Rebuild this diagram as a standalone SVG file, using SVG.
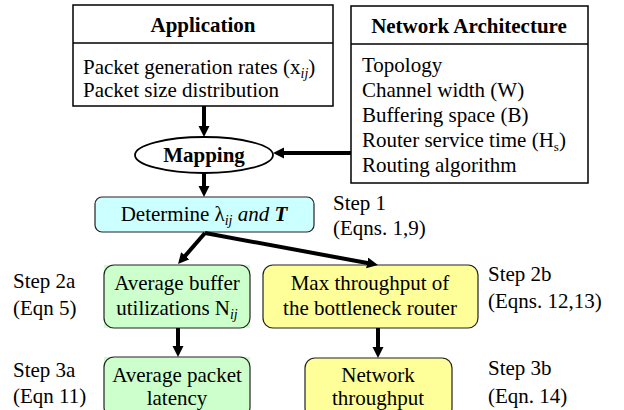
<svg xmlns="http://www.w3.org/2000/svg" width="624" height="410" viewBox="0 0 624 410" font-family="'Liberation Serif', 'DejaVu Serif', serif">
<style>
text{font-family:'Liberation Serif','DejaVu Serif',serif;font-size:21px;fill:#000}
.b{font-weight:bold}
.c{text-anchor:middle}
.box{fill:#fff;stroke:#000;stroke-width:1.5}
.rb{stroke:#222;stroke-width:1.2}
.sub{font-size:14px;font-style:italic}
.ar{fill:none;stroke:#000;stroke-width:4}
</style>
<defs>
<marker id="ah" markerUnits="userSpaceOnUse" markerWidth="12" markerHeight="12" refX="3" refY="5.5" orient="auto">
<path d="M0,0 L11,5.5 L0,11 z" fill="#000"/>
</marker>
</defs>
<rect width="624" height="410" fill="#fff"/>

<g id="application">
<rect class="box" x="73" y="5" width="260" height="101"/>
<line x1="73" y1="43" x2="333" y2="43" stroke="#000" stroke-width="1.5"/>
<text class="b c" x="203" y="32">Application</text>
<text x="83" y="74">Packet generation rates (x<tspan class="sub" dy="4">ij</tspan><tspan dy="-4">)</tspan></text>
<text x="83" y="97">Packet size distribution</text>
</g>

<g id="network-architecture">
<rect class="box" x="351" y="6" width="237" height="177"/>
<line x1="351" y1="44" x2="588" y2="44" stroke="#000" stroke-width="1.5"/>
<text class="b c" x="469" y="33">Network Architecture</text>
<text x="362" y="72">Topology</text>
<text x="362" y="97">Channel width (W)</text>
<text x="362" y="122">Buffering space (B)</text>
<text x="362" y="147">Router service time (H<tspan font-size="13" dy="4">s</tspan><tspan dy="-4">)</tspan></text>
<text x="362" y="172">Routing algorithm</text>
</g>

<g id="mapping">
<ellipse cx="204" cy="155" rx="69" ry="18" fill="#fff" stroke="#000" stroke-width="1.8"/>
<text class="b c" x="204" y="162">Mapping</text>
</g>

<g id="determine">
<rect class="rb" x="95" y="197" width="219" height="35" rx="7" fill="#ccffff"/>
<text class="c" x="204" y="221">Determine λ<tspan class="sub" dy="4">ij</tspan><tspan dy="-4" font-style="italic"> and </tspan><tspan font-style="italic" font-weight="bold">T</tspan></text>
</g>
<g id="step1">
<text x="333" y="210">Step 1</text>
<text x="333" y="235">(Eqns. 1,9)</text>
</g>

<g id="avg-buffer">
<rect x="104" y="265" width="146" height="63" fill="#ccffcc"/>
<rect class="rb" x="104" y="265" width="146" height="63" rx="10" fill="#ccffcc"/>
<text class="c" x="177" y="290">Average buffer</text>
<text class="c" x="177" y="315">utilizations N<tspan class="sub" dy="4">ij</tspan></text>
</g>
<g id="step2a">
<text x="13" y="288">Step 2a</text>
<text x="13" y="315">(Eqn 5)</text>
</g>

<g id="max-throughput">
<rect class="rb" x="263" y="265" width="215" height="63" rx="10" fill="#ffff99"/>
<text class="c" x="370" y="290">Max throughput of</text>
<text class="c" x="370" y="315">the bottleneck router</text>
</g>
<g id="step2b">
<text x="488" y="281">Step 2b</text>
<text x="488" y="308">(Eqns. 12,13)</text>
</g>

<g id="avg-latency">
<rect x="104" y="357" width="146" height="60" fill="#ccffcc"/>
<rect class="rb" x="104" y="357" width="146" height="60" rx="10" fill="#ccffcc"/>
<text class="c" x="177" y="382">Average packet</text>
<text class="c" x="177" y="405">latency</text>
</g>
<g id="step3a">
<text x="13" y="377">Step 3a</text>
<text x="13" y="403">(Eqn 11)</text>
</g>

<g id="net-throughput">
<rect class="rb" x="305" y="358" width="147" height="60" rx="10" fill="#ffff99"/>
<text class="c" x="378" y="382">Network</text>
<text class="c" x="378" y="405">throughput</text>
</g>
<g id="step3b">
<text x="488" y="375">Step 3b</text>
<text x="488" y="403">(Eqn. 14)</text>
</g>

<g id="connectors">
<line class="ar" x1="204" y1="106" x2="204" y2="129" marker-end="url(#ah)"/>
<line class="ar" x1="351" y1="153" x2="281" y2="153" marker-end="url(#ah)"/>
<line class="ar" x1="204" y1="173" x2="204" y2="189" marker-end="url(#ah)"/>
<line class="ar" x1="205" y1="233" x2="183.3" y2="258" marker-end="url(#ah)"/>
<line class="ar" x1="205" y1="233" x2="370.1" y2="263.5" marker-end="url(#ah)"/>
<line class="ar" x1="178" y1="328" x2="178" y2="349" marker-end="url(#ah)"/>
<line class="ar" x1="378" y1="328" x2="378" y2="350" marker-end="url(#ah)"/>
</g>
</svg>
